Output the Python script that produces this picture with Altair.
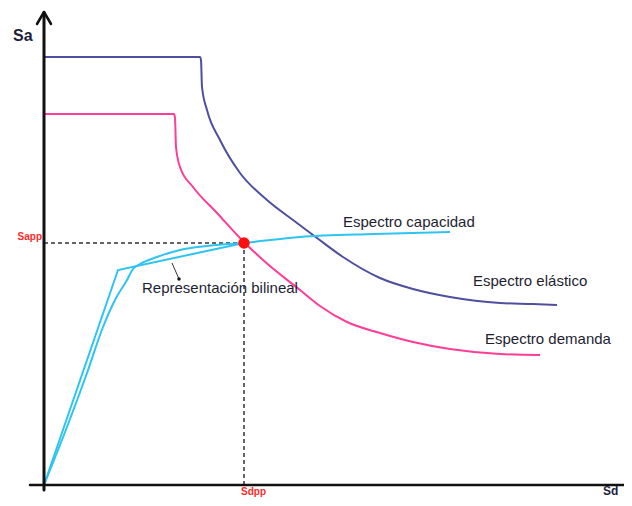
import altair as alt
import pandas as pd

# Schematic spectra (Sd, Sa)
elastic_sd = [0, 156, 157, 158, 163, 176, 196, 223, 249, 273, 299, 336, 369, 406, 456, 489, 513]
elastic_sa = [428, 428, 425, 398, 375, 345, 312, 285, 265, 247, 228, 207, 196, 188, 182, 181, 180]
demand_sd = [0, 130, 131, 132, 136, 149, 173, 196, 219, 256, 276, 303, 336, 369, 406, 456, 496]
demand_sa = [371, 371, 367, 338, 318, 298, 272, 247, 225, 195, 179, 163, 152, 143, 136, 131, 130]
capacity_sd = [0, 23, 43, 59, 71, 83, 89, 96, 113, 136, 163, 199, 256, 330, 406]
capacity_sa = [0, 58, 112, 158, 185, 205, 216, 221, 228, 235, 239, 242, 248, 251, 253]
bilinear_sd = [0, 74, 200]
bilinear_sa = [0, 215, 242]

sdpp = 200
sapp = 242

series_names = ["Espectro elástico", "Espectro demanda", "Espectro capacidad", "Representación bilineal"]
series_colors = ["#4f4f9f", "#ff3d96", "#2ec4f2", "#2ec4f2"]

rows = []
for name, xs_, ys_ in [
    ("Espectro elástico", elastic_sd, elastic_sa),
    ("Espectro demanda", demand_sd, demand_sa),
    ("Espectro capacidad", capacity_sd, capacity_sa),
    ("Representación bilineal", bilinear_sd, bilinear_sa),
]:
    for i, (x, y) in enumerate(zip(xs_, ys_)):
        rows.append({"serie": name, "i": i, "Sd": x, "Sa": y})
curves = pd.DataFrame(rows)

xs = alt.Scale(domain=[-36, 580], nice=False, zero=False)
ys = alt.Scale(domain=[-13, 477], nice=False, zero=False)
color_scale = alt.Scale(domain=series_names, range=series_colors)

smooth = alt.Chart(curves).transform_filter(
    alt.datum.serie != "Representación bilineal"
).mark_line(strokeWidth=2, interpolate="monotone").encode(
    x=alt.X("Sd:Q", scale=xs, axis=None),
    y=alt.Y("Sa:Q", scale=ys, axis=None),
    color=alt.Color("serie:N", scale=color_scale, legend=None),
    detail="serie:N",
    order="i:Q",
)
bilinear = alt.Chart(curves).transform_filter(
    alt.datum.serie == "Representación bilineal"
).mark_line(strokeWidth=2).encode(
    x=alt.X("Sd:Q", scale=xs, axis=None),
    y=alt.Y("Sa:Q", scale=ys, axis=None),
    color=alt.Color("serie:N", scale=color_scale, legend=None),
    order="i:Q",
)

# axes with arrow
axes_df = pd.DataFrame([
    {"x": 0, "y": -5, "x2": 0, "y2": 472, "w": 3},
    {"x": -14, "y": 0, "x2": 580, "y2": 0, "w": 2.5},
    {"x": 0, "y": 473, "x2": -7, "y2": 461, "w": 2.5},
    {"x": 0, "y": 473, "x2": 7, "y2": 461, "w": 2.5},
])
axes = alt.Chart(axes_df).mark_rule(color="#111111", strokeCap="round").encode(
    x=alt.X("x:Q", scale=xs, axis=None), y=alt.Y("y:Q", scale=ys, axis=None),
    x2="x2:Q", y2="y2:Q",
    strokeWidth=alt.StrokeWidth("w:Q", scale=None),
)

dash_df = pd.DataFrame([
    {"x": 0, "y": sapp, "x2": sdpp, "y2": sapp},
    {"x": sdpp, "y": 0, "x2": sdpp, "y2": sapp},
])
dashes = alt.Chart(dash_df).mark_rule(color="#333333", strokeWidth=1.5, strokeDash=[4, 3]).encode(
    x=alt.X("x:Q", scale=xs, axis=None), y=alt.Y("y:Q", scale=ys, axis=None),
    x2="x2:Q", y2="y2:Q",
)

leader_df = pd.DataFrame([{"x": 128, "y": 222, "x2": 135, "y2": 206}])
leader = alt.Chart(leader_df).mark_rule(color="#333333", strokeWidth=1).encode(
    x=alt.X("x:Q", scale=xs, axis=None), y=alt.Y("y:Q", scale=ys, axis=None),
    x2="x2:Q", y2="y2:Q",
)
leader_dot = alt.Chart(leader_df).mark_circle(color="#111111", size=12, opacity=1).encode(
    x=alt.X("x2:Q", scale=xs, axis=None), y=alt.Y("y2:Q", scale=ys, axis=None),
)

pp_df = pd.DataFrame([{"Sd": sdpp, "Sa": sapp}])
dot = alt.Chart(pp_df).mark_circle(color="#ff1010", size=130, opacity=1).encode(
    x=alt.X("Sd:Q", scale=xs, axis=None), y=alt.Y("Sa:Q", scale=ys, axis=None),
)

labels_df = pd.DataFrame([
    {"t": "Espectro capacidad", "x": 299, "y": 263},
    {"t": "Espectro elástico", "x": 429, "y": 204},
    {"t": "Espectro demanda", "x": 441, "y": 146},
    {"t": "Representación bilineal", "x": 98, "y": 197},
])
labels = alt.Chart(labels_df).mark_text(
    align="left", baseline="middle", fontSize=15, font="Liberation Sans", color="#1e1e30"
).encode(
    x=alt.X("x:Q", scale=xs, axis=None), y=alt.Y("y:Q", scale=ys, axis=None), text="t:N"
)

sa_title = alt.Chart(pd.DataFrame([{"t": "Sa", "x": -31, "y": 449}])).mark_text(
    align="left", baseline="middle", fontSize=16, fontWeight="bold", font="Liberation Sans", color="#1e1e40"
).encode(
    x=alt.X("x:Q", scale=xs, axis=None), y=alt.Y("y:Q", scale=ys, axis=None), text="t:N"
)
sd_title = alt.Chart(pd.DataFrame([{"t": "Sd", "x": 559, "y": -13}])).mark_text(
    align="left", baseline="bottom", fontSize=12, fontWeight="bold", font="Liberation Sans", color="#1e1e40"
).encode(
    x=alt.X("x:Q", scale=xs, axis=None), y=alt.Y("y:Q", scale=ys, axis=None), text="t:N"
)

sapp_label = alt.Chart(pd.DataFrame([{"t": "Sapp", "x": -2, "y": 248}])).mark_text(
    align="right", baseline="middle", fontSize=10, fontWeight="bold", font="Liberation Sans", color="#ff2a2a"
).encode(
    x=alt.X("x:Q", scale=xs, axis=None), y=alt.Y("y:Q", scale=ys, axis=None), text="t:N"
)
sdpp_label = alt.Chart(pd.DataFrame([{"t": "Sdpp", "x": 197, "y": -10}])).mark_text(
    align="left", baseline="alphabetic", fontSize=10, fontWeight="bold", font="Liberation Sans", color="#ff2a2a"
).encode(
    x=alt.X("x:Q", scale=xs, axis=None), y=alt.Y("y:Q", scale=ys, axis=None), text="t:N"
)

chart = alt.layer(
    dashes, smooth, bilinear, axes, leader, leader_dot, dot, labels,
    sa_title, sd_title, sapp_label, sdpp_label
).properties(
    width=616, height=490,
    autosize=alt.AutoSizeParams(type="none"),
    padding=0,
    background="white",
).configure_view(stroke=None)

chart.save("out.html", embed_options={"renderer": "svg", "actions": False})
